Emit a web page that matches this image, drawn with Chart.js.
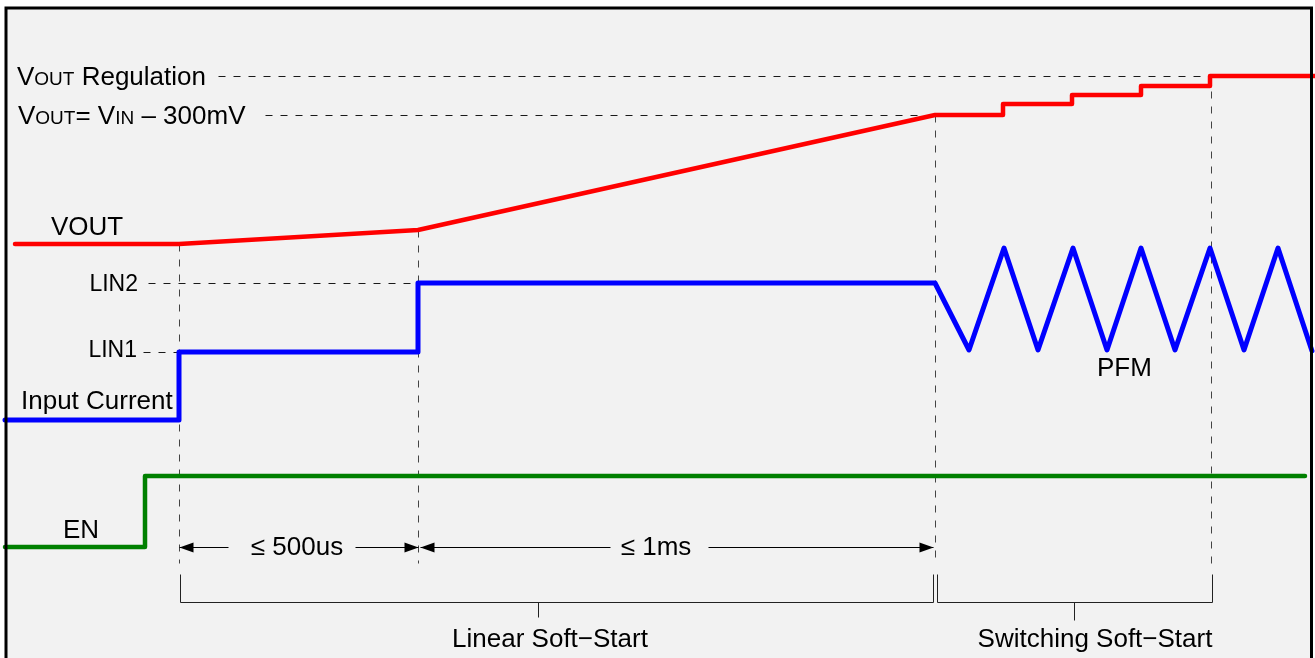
<!DOCTYPE html>
<html>
<head>
<meta charset="utf-8">
<script src="https://cdn.jsdelivr.net/npm/chart.js@4.4.1/dist/chart.umd.min.js"></script>
<style>
  html, body { margin: 0; padding: 0; background: #ffffff; }
  canvas { display: block; }
</style>
</head>
<body>
<canvas id="timing" width="1315" height="658"></canvas>
<script>
// time axis (arbitrary units) and signal levels
const voutT = [15, 179, 418, 935, 1003, 1003, 1072, 1072, 1141, 1141, 1210, 1210, 1315];
const voutL = [414, 414, 428, 543, 543, 554, 554, 563, 563, 572, 572, 582, 582];

const iinT = [5, 179, 179, 418, 418, 935, 969, 1004, 1038, 1073, 1107, 1141, 1175, 1210, 1244, 1278, 1312];
const iinL = [238, 238, 306, 306, 375, 375, 308, 410, 308, 410, 308, 410, 308, 410, 308, 410, 307];

const enT = [5, 145, 145, 1305];
const enL = [111, 111, 182, 182];

// reference levels and event times
const levelReg = 582, levelVin = 543, levelLin2 = 375, levelLin1 = 306;
const tEvents = [179, 418, 935, 1211];
const eventTop = [414, 428, 543, 582];

const FONT = "'Liberation Sans', Arial, Helvetica, sans-serif";

function pts(t, l) { return t.map((v, i) => ({ x: v, y: l[i] })); }

const overlay = {
  id: 'overlay',
  beforeDraw(chart) {
    const c = chart.ctx;
    c.save();
    c.fillStyle = '#f2f2f2';
    c.fillRect(6, 8, 1305, 660);
    c.restore();
  },
  beforeDatasetsDraw(chart) {
    const c = chart.ctx, xs = chart.scales.x, ys = chart.scales.y;
    // snap thin lines onto pixel centres
    const X = v => Math.round(xs.getPixelForValue(v)) + 0.5;
    const Y = v => Math.round(ys.getPixelForValue(v)) + 0.5;
    c.save();
    c.strokeStyle = '#1a1a1a';
    c.lineWidth = 1;
    c.setLineDash([7, 8]);
    const hline = (a, b, l) => { c.beginPath(); c.moveTo(X(a), Y(l)); c.lineTo(X(b), Y(l)); c.stroke(); };
    const vline = (t, a, b) => { c.beginPath(); c.moveTo(X(t), Y(a)); c.lineTo(X(t), Y(b)); c.stroke(); };
    hline(218, 1210, levelReg);
    hline(265, 935, levelVin);
    hline(148, 418, levelLin2);
    hline(143, 179, levelLin1);
    c.strokeStyle = '#444';
    tEvents.forEach((t, i) => vline(t, eventTop[i], 95));
    c.setLineDash([]);

    // brackets
    c.strokeStyle = '#222';
    c.lineWidth = 1;
    const bracket = (a, b, mid, tip) => {
      c.beginPath();
      c.moveTo(X(a), Y(84)); c.lineTo(X(a), Y(56)); c.lineTo(X(b), Y(56)); c.lineTo(X(b), Y(84));
      c.moveTo(X(mid), Y(56)); c.lineTo(X(mid), Y(tip));
      c.stroke();
    };
    bracket(180, 933, 538, 41);
    bracket(937, 1212, 1074, 38);

    // dimension arrows
    c.strokeStyle = '#000';
    c.fillStyle = '#000';
    c.lineWidth = 1;
    const head = (tip, dir, l) => {
      const x = X(tip), y = Y(l);
      c.beginPath(); c.moveTo(x, y); c.lineTo(x - dir * 14, y - 5); c.lineTo(x - dir * 14, y + 5); c.closePath(); c.fill();
    };
    const dim = (a, b, g1, g2, l) => {
      c.beginPath();
      c.moveTo(X(a), Y(l)); c.lineTo(X(g1), Y(l));
      c.moveTo(X(g2), Y(l)); c.lineTo(X(b), Y(l));
      c.stroke();
      head(a, -1, l); head(b, 1, l);
    };
    dim(179, 418, 228, 355, 111);
    dim(420, 933, 610, 708, 111);
    c.restore();
  },
  afterDatasetsDraw(chart) {
    const c = chart.ctx, xs = chart.scales.x, ys = chart.scales.y;
    const X = v => xs.getPixelForValue(v), Y = v => ys.getPixelForValue(v);
    c.save();
    c.fillStyle = '#000';
    c.textBaseline = 'alphabetic';
    const text = (s, t, l, align, size) => {
      c.font = (size || 26) + 'px ' + FONT;
      c.textAlign = align || 'left';
      c.fillText(s, X(t), Y(l));
    };
    // mixed-size (small caps) runs
    const runs = (parts, t, l) => {
      let x = X(t);
      c.textAlign = 'left';
      parts.forEach(([s, size]) => {
        c.font = size + 'px ' + FONT;
        c.fillText(s, x, Y(l));
        x += c.measureText(s).width;
      });
    };
    runs([['V', 26], ['OUT', 19], [' Regulation', 26]], 17, 573);
    runs([['V', 26], ['OUT', 19], ['= ', 26], ['V', 26], ['IN', 19], [' \u2013 300mV', 26]], 18, 534);
    text('VOUT', 51, 423);
    text('LIN2', 138, 367, 'right', 23);
    text('LIN1', 137, 301, 'right', 23);
    text('Input Current', 21, 249);
    text('EN', 63, 120);
    text('PFM', 1097, 282);
    text('\u2264 500us', 297, 103, 'center');
    text('\u2264 1ms', 656, 103, 'center');
    text('Linear Soft\u2212Start', 550, 11, 'center');
    text('Switching Soft\u2212Start', 1095, 11, 'center');
    c.restore();
  },
  afterDraw(chart) {
    const c = chart.ctx;
    c.save();
    c.strokeStyle = '#000';
    c.lineWidth = 3;
    c.strokeRect(6, 8, 1305.5, 670);
    c.restore();
  }
};

new Chart(document.getElementById('timing'), {
  type: 'scatter',
  data: {
    datasets: [
      { label: 'VOUT', data: pts(voutT, voutL), showLine: true, borderColor: '#ff0000', borderWidth: 4.5 },
      { label: 'Input Current', data: pts(iinT, iinL), showLine: true, borderColor: '#0000ff', borderWidth: 5 },
      { label: 'EN', data: pts(enT, enL), showLine: true, borderColor: '#008000', borderWidth: 4.5 }
    ]
  },
  options: {
    responsive: false,
    animation: false,
    layout: { padding: 0 },
    elements: {
      point: { radius: 0, hoverRadius: 0 },
      line: { tension: 0, borderCapStyle: 'round', borderJoinStyle: 'round', fill: false }
    },
    plugins: { legend: { display: false }, tooltip: { enabled: false } },
    scales: {
      x: { type: 'linear', min: 0, max: 1315, display: false },
      y: { type: 'linear', min: 0, max: 658, display: false }
    }
  },
  plugins: [overlay]
});
</script>
</body>
</html>
